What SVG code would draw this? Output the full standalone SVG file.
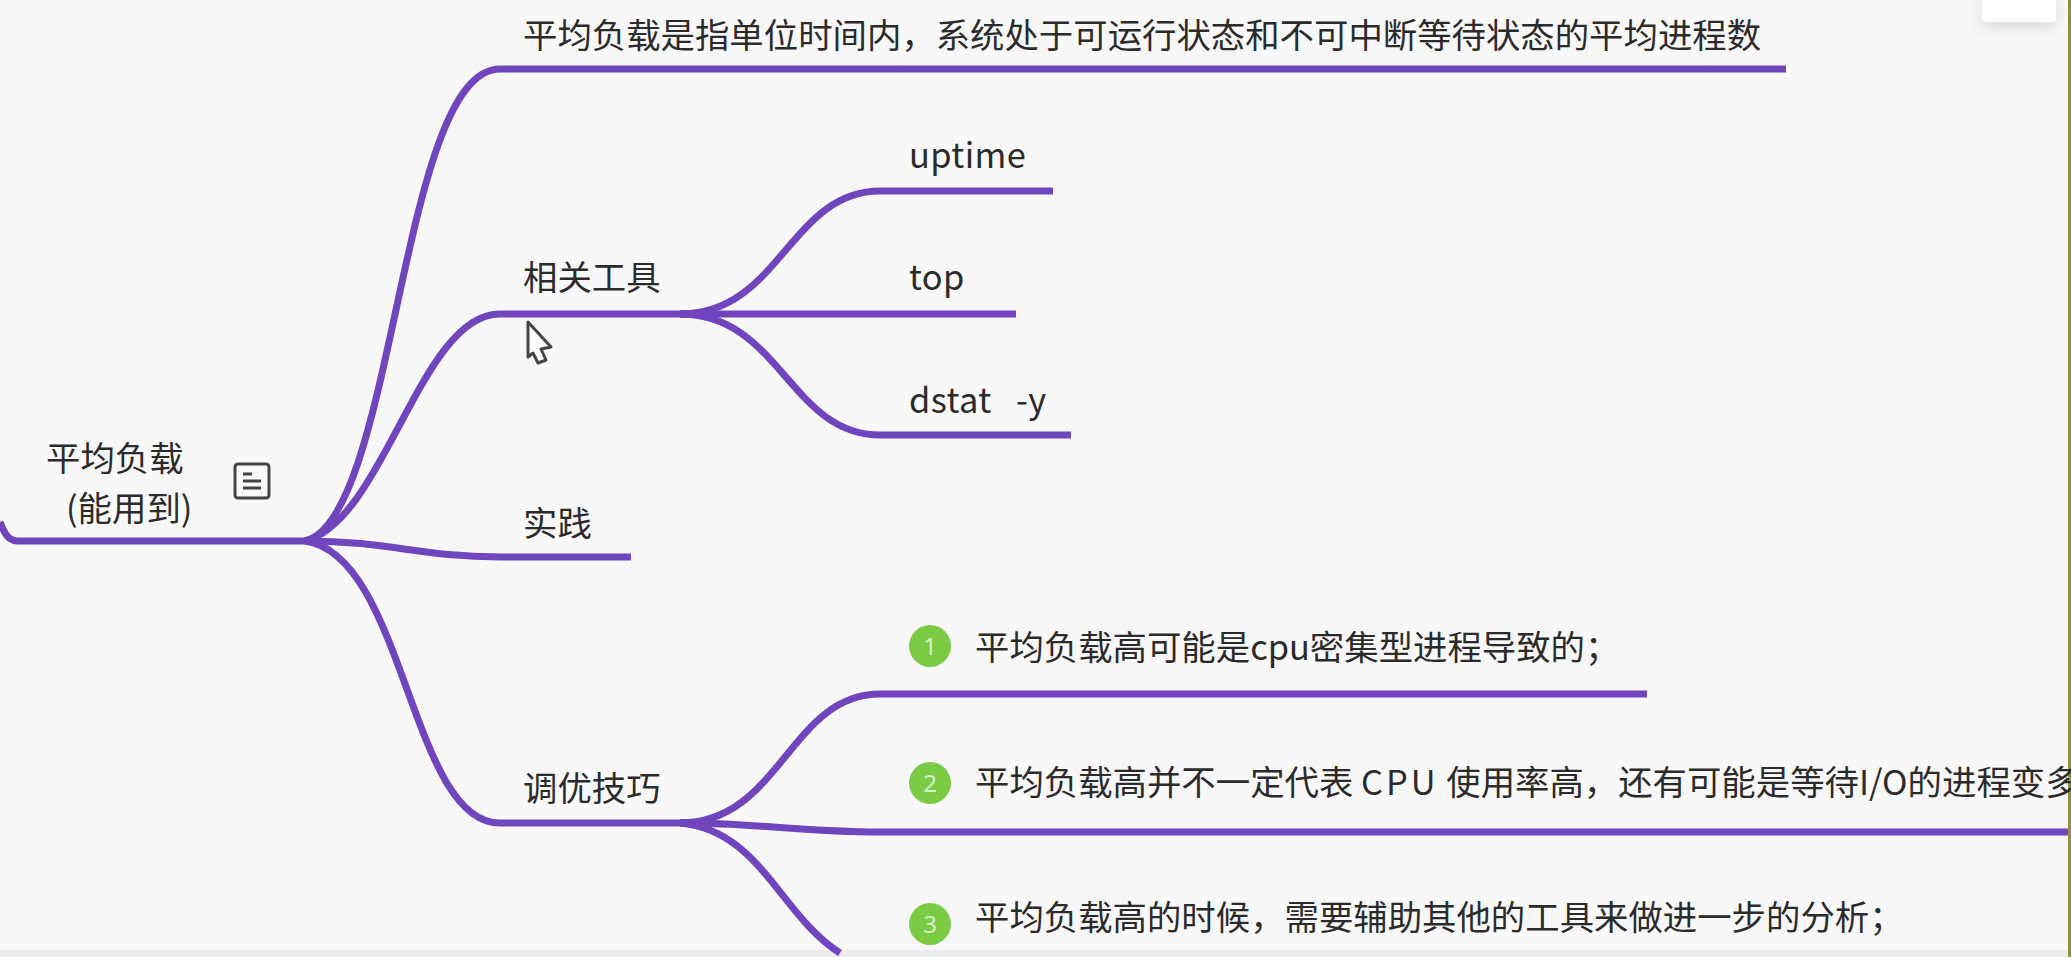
<svg xmlns="http://www.w3.org/2000/svg" width="2071" height="957" viewBox="0 0 2071 957">
<defs>
<filter id="sh" x="-30%" y="-30%" width="160%" height="180%"><feDropShadow dx="0" dy="5" stdDeviation="7" flood-color="#000" flood-opacity="0.12"/></filter>
<filter id="soft" x="-5%" y="-5%" width="110%" height="110%"><feGaussianBlur stdDeviation="0.45"/></filter>
</defs>
<style>
.t{font-family:"Noto Sans CJK SC","Noto Sans",sans-serif;font-size:34.4px;fill:#2b2b2b}
.l{letter-spacing:0.4px}
.w{letter-spacing:3px}
.c{fill:none;stroke:#6f45bd;stroke-width:7;stroke-linecap:butt}
.b{fill:#7ccb45}
.n{font-family:"Noto Sans",sans-serif;font-size:24px;fill:#d8f0c8;text-anchor:middle}
</style>
<rect width="2071" height="957" fill="#f8f8f8"/>
<rect x="0" y="950" width="2071" height="7" fill="#ececec"/>
<rect x="2068" y="0" width="3" height="957" fill="#8f9040"/>
<g id="popup"><rect x="1982" y="-10" width="74" height="32" rx="4" fill="#fff" filter="url(#sh)"/></g>
<g id="connectors" filter="url(#soft)">
<path class="c" d="M0 522C5 535 9 541 18 541H315"/>
<path class="c" d="M305 541C395 520 400 69 500 69H1786"/>
<path class="c" d="M305 541C385 520 420 314 500 314H700"/>
<path class="c" d="M305 541C390 541 420 557 500 557H631"/>
<path class="c" d="M305 541C405 555 410 823 500 823H690"/>
<path class="c" d="M680 314C780 314 790 191 880 191H1053"/>
<path class="c" d="M680 314H1016"/>
<path class="c" d="M680 314C780 314 790 435 880 435H1071"/>
<path class="c" d="M680 823C780 823 790 694 880 694H1647"/>
<path class="c" d="M680 823C760 823 800 832 880 832H2068"/>
<path class="c" d="M680 823C760 830 780 915 840 953"/>
</g>
<g id="root"><text class="t" x="46" y="471">平均负载</text><text class="t" x="66" y="521">(能用到)</text>
<g fill="none" stroke="#444" stroke-width="3"><rect x="235" y="464" width="34" height="34" rx="3"/><path d="M243 474h9M243 481h18M243 488h18"/></g></g>
<g id="n1"><text class="t" x="523" y="48">平均负载是指单位时间内&#xFF0C;系统处于可运行状态和不可中断等待状态的平均进程数</text></g>
<g id="n2"><text class="t" x="523" y="290">相关工具</text></g>
<g id="n3"><text class="t" x="523" y="536">实践</text></g>
<g id="n4"><text class="t" x="523" y="801">调优技巧</text></g>
<g id="s1"><text class="t l" x="909" y="168">uptime</text></g>
<g id="s2"><text class="t l" x="909" y="290">top</text></g>
<g id="s3"><text class="t l" x="909" y="413" xml:space="preserve">dstat   -y</text></g>
<g id="t1"><circle class="b" cx="930" cy="646" r="21"/><text class="n" x="930" y="655">1</text><text class="t" x="975" y="660">平均负载高可能是cpu密集型进程导致的&#xFF1B;</text></g>
<g id="t2"><circle class="b" cx="930" cy="783" r="21"/><text class="n" x="930" y="792">2</text><text class="t" x="975" y="795">平均负载高并不一定代表 <tspan class="w">CPU</tspan> 使用率高&#xFF0C;还有可能是等待I/O的进程变多</text></g>
<g id="t3"><circle class="b" cx="930" cy="924" r="21"/><text class="n" x="930" y="933">3</text><text class="t" x="975" y="930">平均负载高的时候&#xFF0C;需要辅助其他的工具来做进一步的分析&#xFF1B;</text></g>
<g id="cursor"><path d="M528 322L551 347L541 349L546 360L538 363L533 353L528 357Z" fill="#fff" stroke="#444" stroke-width="3" stroke-linejoin="round"/></g>
</svg>
